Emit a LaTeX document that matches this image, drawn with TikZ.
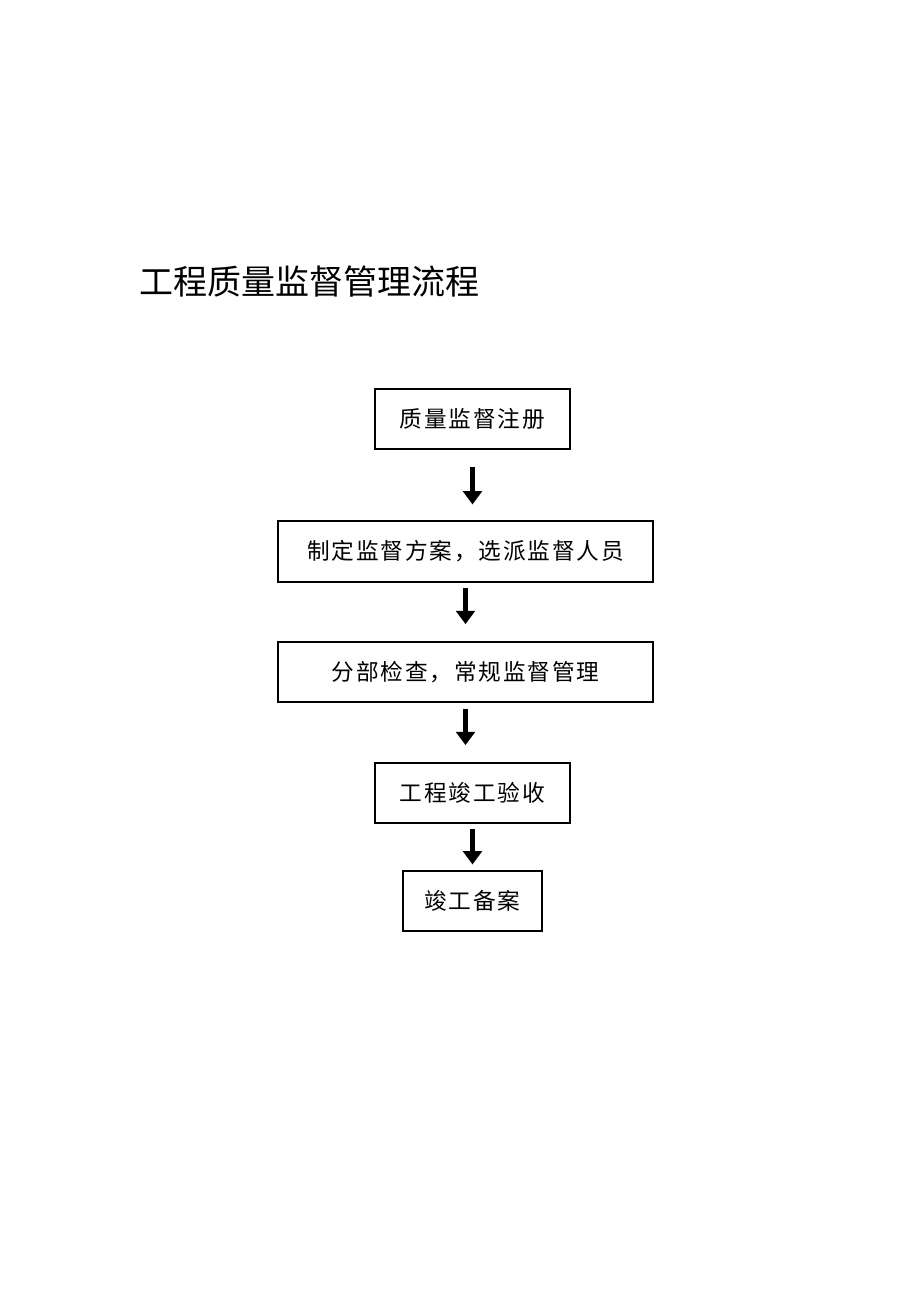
\documentclass[tikz,border=0pt]{standalone}
\usepackage{fontspec}
\newfontfamily\cjk{Noto Sans CJK SC}
\newfontfamily\cjkwide[LetterSpace=8]{Noto Sans CJK SC}
\usetikzlibrary{arrows.meta}
\tikzset{
  >={Triangle[length=10pt,width=14pt]},
  stepbox/.style={
    rectangle,
    draw=black, line width=0.8pt,
    font=\cjkwide\fontsize{17}{20}\selectfont,
    inner sep=0pt},
  flow/.style={draw, line width=4pt, ->},
}
\begin{document}
\begin{tikzpicture}[x=0.75pt,y=-0.75pt]
\useasboundingbox (0,0) rectangle (920,1302);
\node[anchor=west, inner sep=0pt, font=\cjk\fontsize{25.5}{30}\selectfont] (Title) at (139,282) {工程质量监督管理流程};

\node[stepbox, minimum width=146.25pt, minimum height=45pt] (Register) at (472.5,419) {质量监督注册};
\node[stepbox, minimum width=281.25pt, minimum height=45.75pt] (Plan) at (465.5,551.5) {制定监督方案，选派监督人员};
\node[stepbox, minimum width=281.25pt, minimum height=45pt] (Check) at (465.5,672) {分部检查，常规监督管理};
\node[stepbox, minimum width=146.25pt, minimum height=45pt] (Accept) at (472.5,793) {工程竣工验收};
\node[stepbox, minimum width=104.25pt, minimum height=45pt] (Record) at (472.5,901) {竣工备案};

\draw[flow, shorten <=13pt, shorten >=12pt] (Register.south) -- (Register.south |- Plan.north);
\draw[flow, shorten <=4pt, shorten >=13pt] (Plan.south) -- (Plan.south |- Check.north);
\draw[flow, shorten <=4.5pt, shorten >=13pt] (Check.south) -- (Check.south |- Accept.north);
\draw[flow, shorten <=4pt, shorten >=4.5pt] (Accept.south) -- (Accept.south |- Record.north);
\end{tikzpicture}
\end{document}
